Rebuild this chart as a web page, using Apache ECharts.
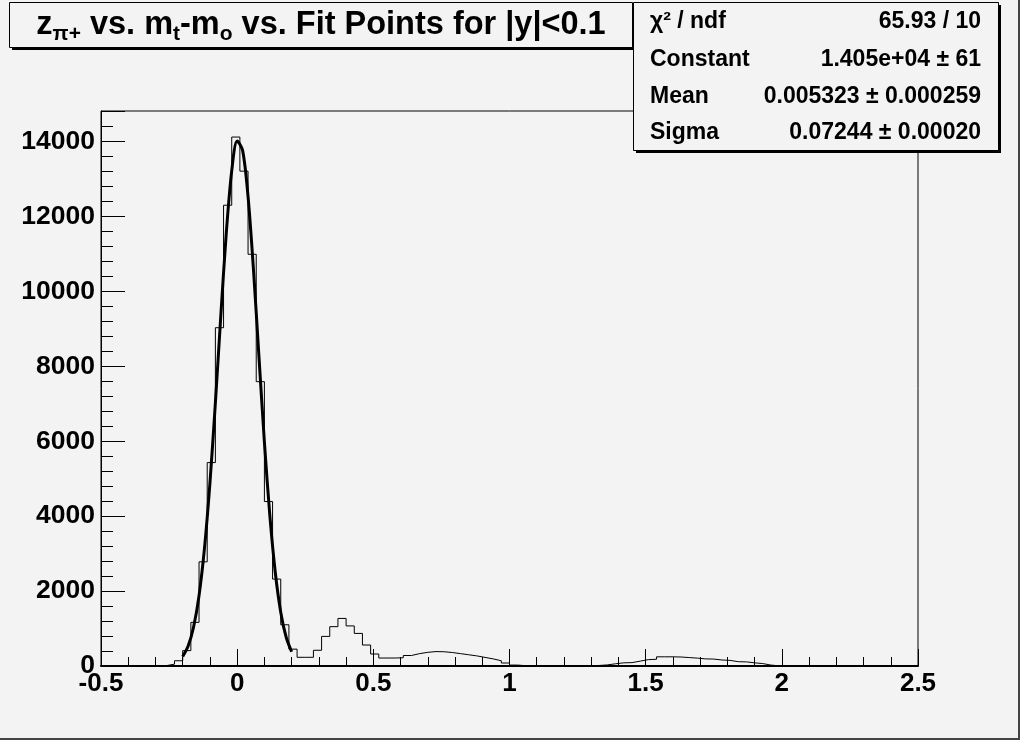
<!DOCTYPE html>
<html><head><meta charset="utf-8">
<script src="https://cdn.jsdelivr.net/npm/echarts/dist/echarts.min.js"></script>
<style>html,body{margin:0;padding:0;background:#f3f3f3}#c{width:1020px;height:740px}</style>
</head><body><div id="c"></div><script>
// Histogram definition
const xMin = -0.5, xMax = 2.5, nBins = 100;
const binCounts = [
  0,0,0,0,0,0,0,10,50,140,
  410,1165,2780,5430,9030,12300,14120,13210,10990,7590,
  4390,2320,1100,450,232,232,420,790,1050,1270,
  1070,870,560,320,213,213,220,280,330,365,
  385,380,360,330,300,270,230,190,140,80,
  25,8,5,4,3,3,4,5,8,10,
  15,30,60,85,90,130,170,180,245,245,
  240,225,210,190,185,160,150,115,110,85,
  65,25,5,0,0,0,0,0,0,0,
  0,0,0,0,0,0,0,0,0,0
];
// Fit curve
const fitX = [-0.20,-0.18,-0.16,-0.14,-0.12,-0.10,-0.08,-0.06,-0.04,-0.02,0.00,0.02,0.04,0.06,0.08,0.10,0.12,0.14,0.16,0.18,0.20];
const fitY = [253,533,1040,1879,3148,4883,7024,9359,11555,13218,14012,13763,12527,10566,8257,5977,4013,2495,1437,767,380];
// Stat box
const statLabels = ['χ² / ndf','Constant','Mean','Sigma'];
const statValues = ['65.93 / 10','1.405e+04 ± 61','0.005323 ± 0.000259','0.07244 ± 0.00020'];
const yMax = 14815;

const bw = (xMax - xMin) / nBins;
const histData = binCounts.map((v, k) => [xMin + k * bw, v]);
histData.push([xMax, binCounts[nBins - 1]]);
const fitData = fitX.map((x, i) => [x, fitY[i]]);

const FONT = '"Liberation Sans", Arial, Helvetica, sans-serif';
const BG = '#f3f3f3';

const graphics = [];
// canvas bevel
graphics.push({type:'polyline', z:100, shape:{points:[[1019,0],[1019,739],[0,739]]}, style:{stroke:'#444', lineWidth:2, fill:null}});
// title box
graphics.push({type:'rect', z:100, shape:{x:12,y:5,width:623,height:45}, style:{fill:'#000'}});
graphics.push({type:'rect', z:101, shape:{x:9.5,y:2.5,width:623,height:45}, style:{fill:BG, stroke:'#000', lineWidth:1}});
graphics.push({type:'text', z:102, x:321, y:25, style:{
  text:'{m|z}{s|π+}{m| vs. m}{s|t}{m|-m}{s|o}{m| vs. Fit Points for |y|<0.1}',
  align:'center', verticalAlign:'middle', textAlign:'center', textVerticalAlign:'middle',
  rich:{
    m:{fontSize:32.5, fontWeight:'bold', fontFamily:FONT, fill:'#000', lineHeight:40, verticalAlign:'middle'},
    s:{fontSize:21, fontWeight:'bold', fontFamily:FONT, fill:'#000', lineHeight:12, verticalAlign:'bottom'}
  }
}});
// stat box
graphics.push({type:'rect', z:100, shape:{x:636,y:5,width:365,height:148}, style:{fill:'#000'}});
graphics.push({type:'rect', z:101, shape:{x:633.5,y:2.5,width:365,height:148}, style:{fill:BG, stroke:'#000', lineWidth:1}});
const rowY = [22, 60, 97, 133];
statLabels.forEach((t, i) => {
  graphics.push({type:'text', z:102, x:650, y:rowY[i], style:{text:t, font:'bold 23px ' + FONT, fill:'#000',
    align:'left', verticalAlign:'middle', textAlign:'left', textVerticalAlign:'middle'}});
  graphics.push({type:'text', z:102, x:981, y:rowY[i], style:{text:statValues[i], font:'bold 23px ' + FONT, fill:'#000',
    align:'right', verticalAlign:'middle', textAlign:'right', textVerticalAlign:'middle'}});
});

const chart = echarts.init(document.getElementById('c'), null, {renderer:'canvas'});
chart.setOption({
  animation:false,
  backgroundColor:BG,
  grid:{left:101, right:102, top:111, bottom:74, show:true, borderColor:'#000', borderWidth:1, backgroundColor:'transparent'},
  xAxis:{
    type:'value', min:xMin, max:xMax, interval:0.5,
    axisLine:{show:true, onZero:false, lineStyle:{color:'#000', width:2}},
    axisTick:{show:true, inside:true, length:17, lineStyle:{color:'#000', width:1}},
    minorTick:{show:true, splitNumber:5, length:9, lineStyle:{color:'#000', width:1}},
    splitLine:{show:false},
    axisLabel:{color:'#000', fontFamily:FONT, fontWeight:'bold', fontSize:26, margin:5}
  },
  yAxis:{
    type:'value', min:0, max:yMax, interval:2000,
    axisLine:{show:true, onZero:false, lineStyle:{color:'#000', width:1}},
    axisTick:{show:true, inside:true, length:24, lineStyle:{color:'#000', width:1}},
    minorTick:{show:true, splitNumber:5, length:12, lineStyle:{color:'#000', width:1}},
    splitLine:{show:false},
    axisLabel:{color:'#000', fontFamily:FONT, fontWeight:'bold', fontSize:26.5, margin:6, showMaxLabel:false,
      formatter: v => String(v)}
  },
  series:[
    {type:'line', data:histData, step:'end', symbol:'none', lineStyle:{color:'#000', width:1}, z:3},
    {type:'line', data:fitData, smooth:0.3, symbol:'none', lineStyle:{color:'#000', width:3}, z:4}
  ],
  graphic:{elements:graphics}
});
</script></body></html>
